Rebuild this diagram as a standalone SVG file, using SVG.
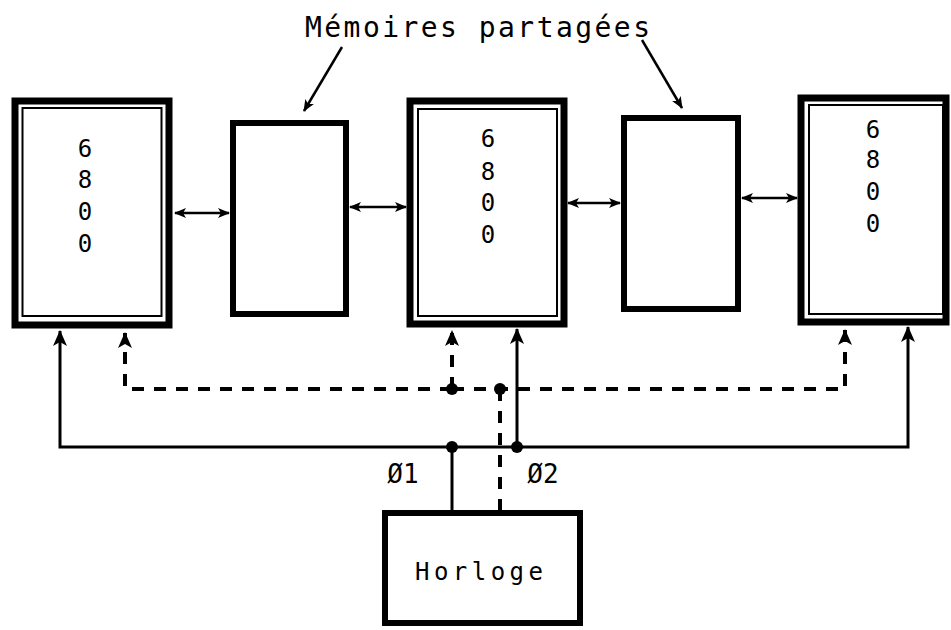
<svg xmlns="http://www.w3.org/2000/svg" width="951" height="630" viewBox="0 0 951 630">
<style>
.outer{fill:none;stroke:#000;stroke-width:7}
.inner{fill:none;stroke:#000;stroke-width:2}
.mem{fill:none;stroke:#000;stroke-width:6}
.bus{fill:none;stroke:#000;stroke-width:3}
.dash{fill:none;stroke:#000;stroke-width:4;stroke-dasharray:12 10}
.bi{fill:none;stroke:#000;stroke-width:2.5}
.lead{fill:none;stroke:#000;stroke-width:2.5}
.t{font-family:"DejaVu Sans Mono","Liberation Mono",monospace;fill:#000}
.dig{font-size:24px;text-anchor:middle}
</style>
<defs>
<marker id="ah" viewBox="0 0 12 10" refX="11" refY="5" markerWidth="12" markerHeight="10" markerUnits="userSpaceOnUse" orient="auto-start-reverse">
<path d="M0,0 L12,5 L0,10 L3,5 Z" fill="#000"/>
</marker>
<marker id="av" viewBox="0 0 16 14" refX="15" refY="7" markerWidth="16" markerHeight="14" markerUnits="userSpaceOnUse" orient="auto">
<path d="M0,0 L16,7 L0,14 L4,7 Z" fill="#000"/>
</marker>
</defs>
<rect width="951" height="630" fill="#fff"/>

<g id="title">
<text class="t" x="305" y="37" font-size="28" textLength="345" lengthAdjust="spacing">Mémoires partagées</text>
</g>

<g id="cpu1">
<rect class="outer" x="15" y="101" width="154" height="224"/>
<rect class="inner" x="22.5" y="108" width="139" height="208"/>
<text class="t dig" x="85" y="157">6</text>
<text class="t dig" x="85" y="188">8</text>
<text class="t dig" x="85" y="220">0</text>
<text class="t dig" x="85" y="252">0</text>
</g>

<g id="mem1">
<rect class="mem" x="233" y="123" width="113" height="191"/>
</g>

<g id="cpu2">
<rect class="outer" x="410" y="101" width="154" height="223"/>
<rect class="inner" x="418" y="109" width="139" height="207"/>
<text class="t dig" x="488" y="147">6</text>
<text class="t dig" x="488" y="180">8</text>
<text class="t dig" x="488" y="211">0</text>
<text class="t dig" x="488" y="243">0</text>
</g>

<g id="mem2">
<rect class="mem" x="624" y="118" width="114" height="191"/>
</g>

<g id="cpu3">
<rect class="outer" x="801" y="98" width="145" height="224"/>
<rect class="inner" x="809" y="105" width="134" height="209"/>
<text class="t dig" x="873" y="138">6</text>
<text class="t dig" x="873" y="168">8</text>
<text class="t dig" x="873" y="200">0</text>
<text class="t dig" x="873" y="232">0</text>
</g>

<g id="horloge">
<rect class="mem" x="385" y="513" width="195" height="110"/>
<text class="t" x="415" y="580" font-size="24" textLength="128" lengthAdjust="spacing">Horloge</text>
</g>

<g id="connectors">
<path class="lead" d="M342,47 L304,111" marker-end="url(#ah)"/>
<path class="lead" d="M642,40 L682,108" marker-end="url(#ah)"/>

<path class="bi" d="M175,213 H229" marker-start="url(#ah)" marker-end="url(#ah)"/>
<path class="bi" d="M350,207 H406" marker-start="url(#ah)" marker-end="url(#ah)"/>
<path class="bi" d="M568,203 H620" marker-start="url(#ah)" marker-end="url(#ah)"/>
<path class="bi" d="M742,198 H797" marker-start="url(#ah)" marker-end="url(#ah)"/>

<path class="bus" d="M517,447 H60 V331" marker-end="url(#av)"/>
<path class="bus" d="M517,447 V329" marker-end="url(#av)"/>
<path class="bus" d="M517,447 H908 V327" marker-end="url(#av)"/>
<path class="bus" d="M452,447 V512"/>

<path class="dash" d="M452,389 H125 V333" marker-end="url(#av)"/>
<path class="dash" d="M452,389 H845 V330" marker-end="url(#av)"/>
<path class="dash" d="M452,389 V331" marker-end="url(#av)"/>
<path class="dash" d="M500,389 V512"/>

<circle cx="452" cy="389" r="6"/>
<circle cx="500" cy="389" r="6"/>
<circle cx="452" cy="447" r="6"/>
<circle cx="517" cy="447" r="6"/>
</g>

<g id="labels">
<text class="t" x="403" y="483" font-size="26" text-anchor="middle">Ø1</text>
<text class="t" x="543" y="483" font-size="26" text-anchor="middle">Ø2</text>
</g>
</svg>
